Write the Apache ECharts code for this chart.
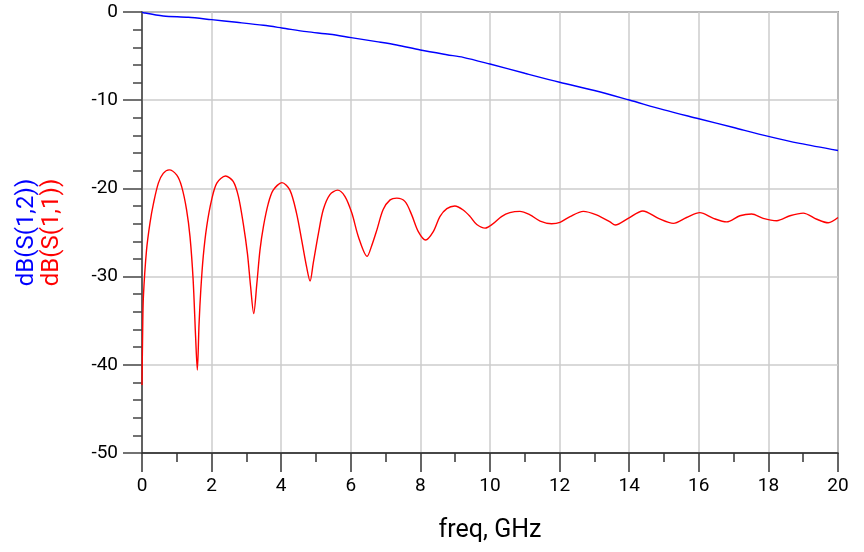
<!DOCTYPE html>
<html>
<head>
<meta charset="utf-8">
<script src="https://cdn.jsdelivr.net/npm/echarts@6/dist/echarts.min.js"></script>
<style>
  html, body { margin: 0; padding: 0; background: #fff; }
  #main { width: 864px; height: 552px; }
</style>
</head>
<body>
<div id="main"></div>
<script>
// S-parameters
var s12Freq = [0, 0.04, 0.61, 1.33, 2.0, 2.72, 3.49, 4.02, 4.73, 5.4, 6.01, 6.74, 7.32, 8.0, 8.76, 9.23,
  10, 11, 12, 13, 14, 15, 16, 17, 18, 18.9, 20];
var s12dB = [0, -0.08, -0.45, -0.6, -0.87, -1.17, -1.51, -1.81, -2.23, -2.53, -2.91, -3.36, -3.74, -4.31, -4.84, -5.14,
  -5.9, -6.95, -7.97, -8.9, -9.98, -11.1, -12.1, -13.1, -14.1, -14.9, -15.7];

var s11Freq = [0, 0.02, 0.04, 0.13, 0.23, 0.33, 0.47, 0.61, 0.78, 1.0, 1.14, 1.28, 1.38, 1.47, 1.54, 1.59,
  1.64, 1.69, 1.76, 1.86, 2.0, 2.15, 2.4, 2.62, 2.77, 2.91, 3.03, 3.12, 3.21, 3.3, 3.39, 3.49, 3.63, 3.77,
  4.02, 4.25, 4.44, 4.59, 4.73, 4.83, 4.92, 5.07, 5.21, 5.4, 5.62, 5.83, 6.03, 6.22, 6.47, 6.6, 6.75, 6.93,
  7.13, 7.32, 7.56, 7.75, 7.94, 8.15, 8.37, 8.56, 8.76, 8.99, 9.23, 9.43, 9.62, 9.86, 10.09, 10.33, 10.57,
  10.86, 11.15, 11.44, 11.77, 12.01, 12.3, 12.68, 13.06, 13.45, 13.6, 13.97, 14.39, 14.84, 15.27, 15.65,
  16.03, 16.42, 16.8, 17.18, 17.52, 17.85, 18.24, 18.62, 19.0, 19.39, 19.72, 20];
var s11dB = [-42.3, -36, -32.3, -27, -23.9, -21.7, -19.4, -18.3, -17.9, -18.5, -19.8, -22.4, -25.5, -30.4, -36.8, -40.6,
  -35.3, -31.5, -27.7, -24.3, -21.3, -19.4, -18.6, -19.2, -20.9, -24.0, -27.4, -31.1, -34.2, -30.8, -27.0, -24.3, -21.7, -20.2,
  -19.35, -20.2, -22.8, -25.9, -28.9, -30.5, -28.5, -25.1, -22.4, -20.7, -20.2, -20.9, -22.8, -25.5, -27.7, -26.5, -24.7, -22.4,
  -21.3, -21.1, -21.5, -23.0, -24.9, -25.85, -24.9, -23.2, -22.3, -22.0, -22.45, -23.2, -24.1, -24.5, -24.0, -23.2, -22.75,
  -22.6, -23.0, -23.7, -24.0, -23.85, -23.2, -22.6, -23.0, -23.8, -24.15, -23.4, -22.56, -23.4, -23.96, -23.3,
  -22.75, -23.4, -23.8, -23.1, -22.9, -23.4, -23.66, -23.1, -22.8, -23.5, -23.9, -23.3];

var xTicks = { min: 0, max: 20, step: 2 };
var yTicks = { min: -50, max: 0, step: 10 };

function pairs(xs, ys) {
  return xs.map(function (x, i) { return [x, ys[i]]; });
}

var chart = echarts.init(document.getElementById('main'));
var font = 'Roboto, "Liberation Sans", sans-serif';

chart.setOption({
  animation: false,
  grid: {
    left: 142, right: 26, top: 12, bottom: 99,
    show: true, borderColor: '#555', borderWidth: 1.5
  },
  xAxis: {
    type: 'value',
    min: xTicks.min, max: xTicks.max, interval: xTicks.step,
    name: 'freq, GHz',
    nameLocation: 'middle',
    nameGap: 65,
    nameTextStyle: { fontFamily: font, fontSize: 25, color: '#000' },
    axisLine: { onZero: false, lineStyle: { color: '#222', width: 1.5 } },
    axisTick: { length: 19, lineStyle: { color: '#333', width: 1.5 } },
    minorTick: { show: true, splitNumber: 2, length: 9, lineStyle: { color: '#333', width: 1.5 } },
    axisLabel: { margin: 24, fontFamily: font, fontSize: 19, color: '#000' },
    splitLine: { show: true, lineStyle: { color: '#cccccc', width: 1.5 } }
  },
  yAxis: {
    type: 'value',
    min: yTicks.min, max: yTicks.max, interval: yTicks.step,
    name: '{b|dB(S(1,2))}\n{r|dB(S(1,1))}',
    nameLocation: 'middle',
    nameRotate: 90,
    nameGap: 78,
    nameTextStyle: {
      fontFamily: font, fontSize: 24, lineHeight: 25,
      rich: {
        b: { color: '#0000ff', fontFamily: font, fontSize: 24, lineHeight: 25 },
        r: { color: '#ff0000', fontFamily: font, fontSize: 24, lineHeight: 25 }
      }
    },
    axisLine: { show: true, onZero: false, lineStyle: { color: '#444', width: 1.5 } },
    axisTick: { show: true, length: 19, lineStyle: { color: '#444', width: 1.5 } },
    minorTick: { show: true, splitNumber: 5, length: 9, lineStyle: { color: '#444', width: 1.5 } },
    axisLabel: { margin: 24, fontFamily: font, fontSize: 19, color: '#000' },
    splitLine: { show: true, lineStyle: { color: '#cccccc', width: 1.5 } }
  },
  series: [
    {
      name: 'dB(S(1,2))',
      type: 'line',
      data: pairs(s12Freq, s12dB),
      showSymbol: false,
      smooth: 0.3,
      lineStyle: { color: '#0000ff', width: 1.4 }
    },
    {
      name: 'dB(S(1,1))',
      type: 'line',
      data: pairs(s11Freq, s11dB),
      showSymbol: false,
      smooth: 0.3,
      lineStyle: { color: '#ff0000', width: 1.4 }
    }
  ]
});
</script>
</body>
</html>
